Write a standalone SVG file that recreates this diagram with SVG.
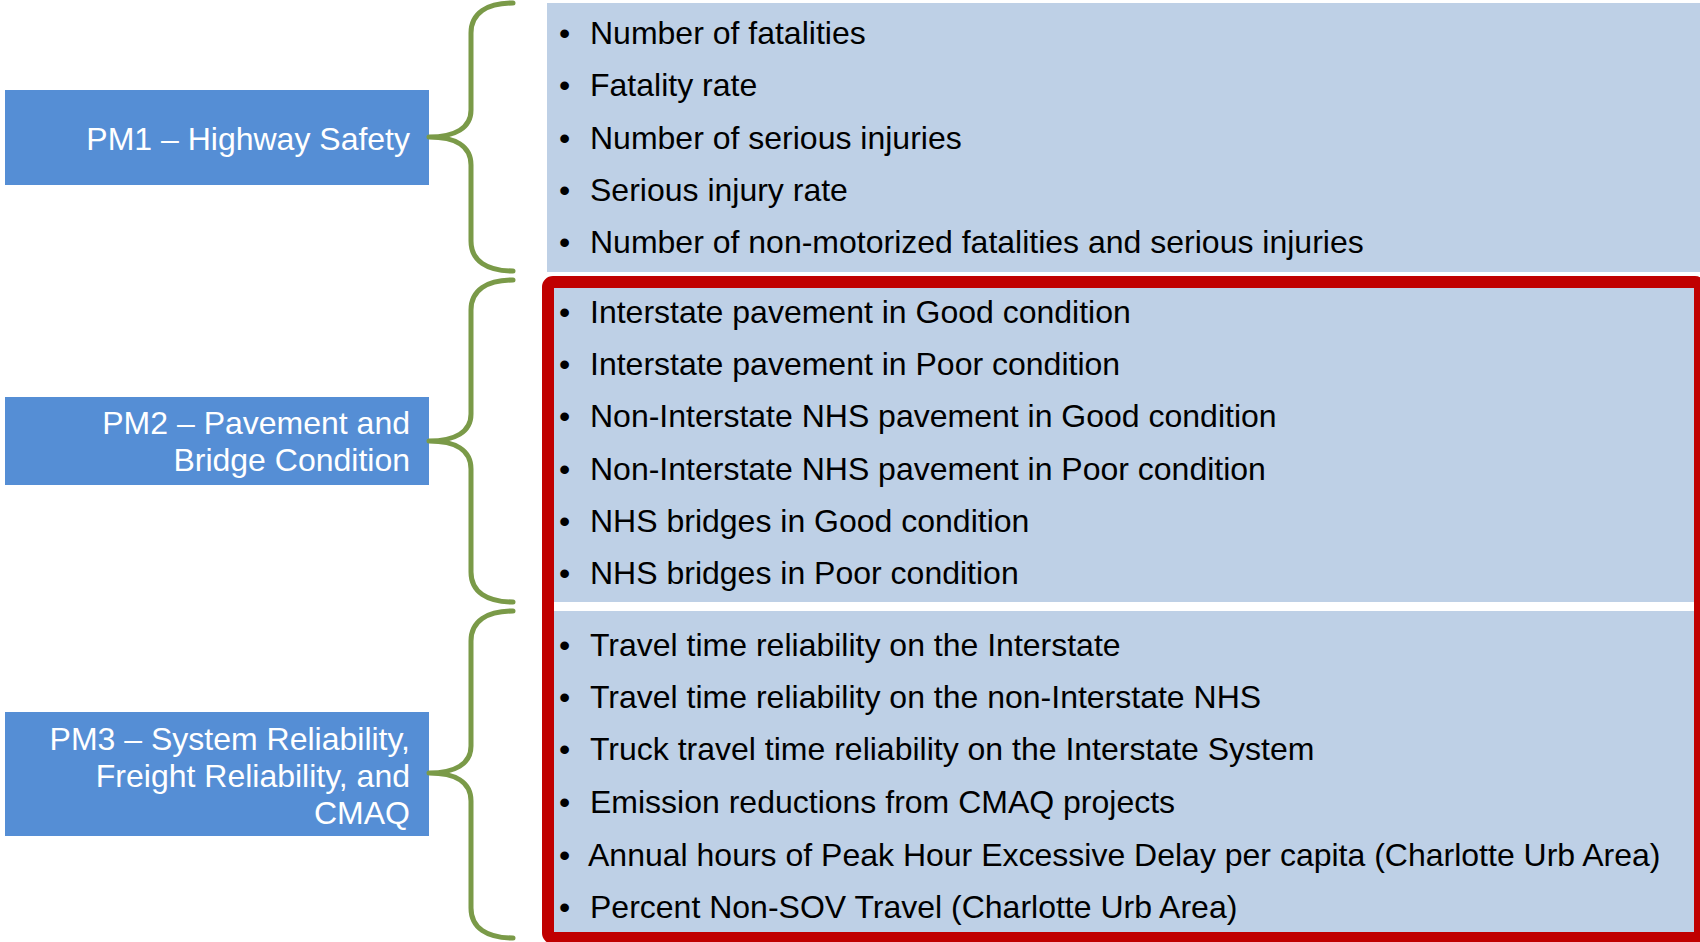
<svg xmlns="http://www.w3.org/2000/svg" width="1700" height="942" viewBox="0 0 1700 942">
<style>
.pm{fill:#558ED5}
.pmt{font-family:"Liberation Sans",Arial,sans-serif;font-size:32px;fill:#FFFFFF;text-anchor:end}
.list{fill:#BED0E6}
.it{font-family:"Liberation Sans",Arial,sans-serif;font-size:32px;fill:#000000}
.brace{fill:none;stroke:#7A9A48;stroke-width:5;stroke-linecap:round;stroke-linejoin:round}
.hl{fill:none;stroke:#C00000;stroke-width:12}
</style>
<rect width="1700" height="942" fill="#FFFFFF"/>

<g id="pm1">
<rect class="pm" x="5" y="90" width="424" height="95"/>
<text class="pmt" x="410" y="150">PM1 – Highway Safety</text>
</g>
<g id="pm2">
<rect class="pm" x="5" y="397" width="424" height="88"/>
<text class="pmt" x="410" y="434">PM2 – Pavement and</text>
<text class="pmt" x="410" y="471">Bridge Condition</text>
</g>
<g id="pm3">
<rect class="pm" x="5" y="712" width="424" height="124"/>
<text class="pmt" x="410" y="750">PM3 – System Reliability,</text>
<text class="pmt" x="410" y="787">Freight Reliability, and</text>
<text class="pmt" x="410" y="824">CMAQ</text>
</g>

<g id="list1">
<rect class="list" x="547" y="3" width="1153" height="269"/>
<text class="it" x="559" y="44">•</text><text class="it" x="590" y="44">Number of fatalities</text>
<text class="it" x="559" y="96">•</text><text class="it" x="590" y="96">Fatality rate</text>
<text class="it" x="559" y="149">•</text><text class="it" x="590" y="149">Number of serious injuries</text>
<text class="it" x="559" y="201">•</text><text class="it" x="590" y="201">Serious injury rate</text>
<text class="it" x="559" y="253">•</text><text class="it" x="590" y="253">Number of non-motorized fatalities and serious injuries</text>
</g>

<g id="list2">
<rect class="list" x="550" y="285" width="1146" height="317"/>
<text class="it" x="559" y="323">•</text><text class="it" x="590" y="323">Interstate pavement in Good condition</text>
<text class="it" x="559" y="375">•</text><text class="it" x="590" y="375">Interstate pavement in Poor condition</text>
<text class="it" x="559" y="427">•</text><text class="it" x="590" y="427">Non-Interstate NHS pavement in Good condition</text>
<text class="it" x="559" y="480">•</text><text class="it" x="590" y="480">Non-Interstate NHS pavement in Poor condition</text>
<text class="it" x="559" y="532">•</text><text class="it" x="590" y="532">NHS bridges in Good condition</text>
<text class="it" x="559" y="584">•</text><text class="it" x="590" y="584">NHS bridges in Poor condition</text>
</g>

<g id="list3">
<rect class="list" x="550" y="611" width="1146" height="324"/>
<text class="it" x="559" y="656">•</text><text class="it" x="590" y="656">Travel time reliability on the Interstate</text>
<text class="it" x="559" y="708">•</text><text class="it" x="590" y="708">Travel time reliability on the non-Interstate NHS</text>
<text class="it" x="559" y="760">•</text><text class="it" x="590" y="760">Truck travel time reliability on the Interstate System</text>
<text class="it" x="559" y="813">•</text><text class="it" x="590" y="813">Emission reductions from CMAQ projects</text>
<text class="it" x="559" y="866">•</text><text class="it" x="588" y="866">Annual hours of Peak Hour Excessive Delay per capita (Charlotte Urb Area)</text>
<text class="it" x="559" y="918">•</text><text class="it" x="590" y="918">Percent Non-SOV Travel (Charlotte Urb Area)</text>
</g>

<g id="highlight">
<rect class="hl" x="548" y="282" width="1152" height="656" rx="5"/>
</g>

<g id="connectors">
<path class="brace" d="M513,3 C487,3 471,13 471,33 L471,110 C471,128 455,137 429,137 C455,137 471,146 471,165 L471,241 C471,261 487,271 513,271"/>
<path class="brace" d="M513,280 C487,280 471,290 471,310 L471,414 C471,432 455,441 429,441 C455,441 471,450 471,469 L471,572 C471,592 487,602 513,602"/>
<path class="brace" d="M513,611 C487,611 471,621 471,641 L471,746 C471,764 455,773 429,773 C455,773 471,782 471,801 L471,908 C471,928 487,938 513,938"/>
</g>
</svg>
